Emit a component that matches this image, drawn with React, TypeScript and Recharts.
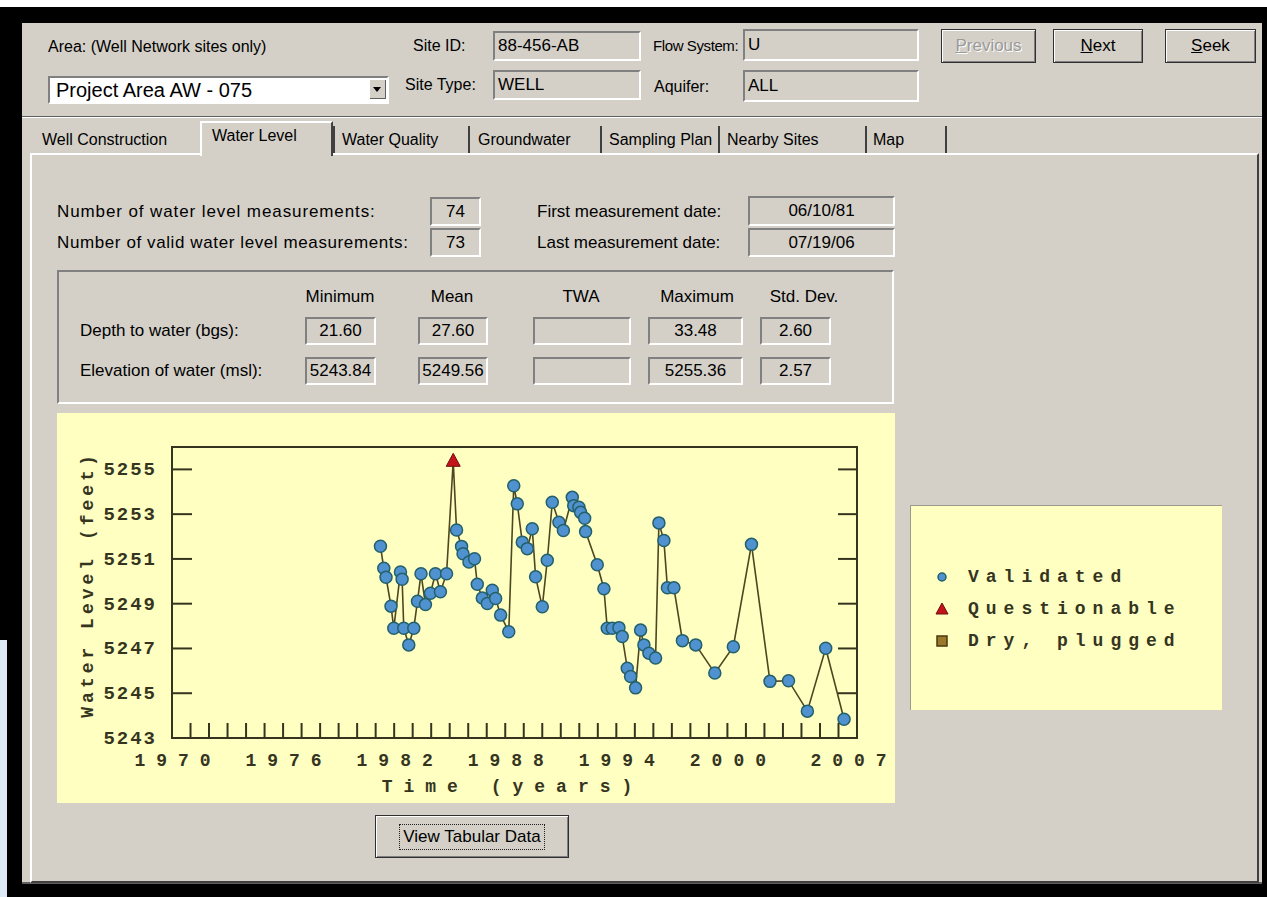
import React from 'react';
import { LineChart, Line, XAxis, YAxis, ReferenceArea, Legend } from 'recharts';

// measurement dates (decimal years) and water level elevations, in time order
const years = [
  1981.26, 1981.44, 1981.56, 1981.83, 1981.98, 1982.34, 1982.43, 1982.52, 1982.79, 1983.06,
  1983.26, 1983.45, 1983.69, 1983.96, 1984.23, 1984.5, 1984.83, 1985.19, 1985.37, 1985.64,
  1985.72, 1986.04, 1986.34, 1986.49, 1986.76, 1987.03, 1987.3, 1987.48, 1987.75, 1988.19,
  1988.46, 1988.65, 1988.92, 1989.19, 1989.46, 1989.64, 1990.0, 1990.27, 1990.54, 1990.9,
  1991.14, 1991.62, 1991.7, 1991.98, 1992.07, 1992.29, 1992.34, 1992.97, 1993.33, 1993.51,
  1993.78, 1994.14, 1994.32, 1994.59, 1994.77, 1995.04, 1995.31, 1995.49, 1995.76, 1996.12,
  1996.3, 1996.57, 1996.76, 1997.11, 1997.57, 1998.29, 1999.32, 2000.32, 2001.3, 2002.3,
  2003.3, 2004.32, 2005.31, 2006.3,
];

const levels = [
  5251.57, 5250.58, 5250.18, 5248.89, 5247.9, 5250.42, 5250.09, 5247.9, 5247.16, 5247.9,
  5249.11, 5250.34, 5248.96, 5249.47, 5250.34, 5249.53, 5250.34, 5255.36, 5252.29, 5251.56,
  5251.23, 5250.86, 5251.01, 5249.87, 5249.25, 5249.01, 5249.6, 5249.23, 5248.49, 5247.75,
  5254.27, 5253.46, 5251.75, 5251.46, 5252.35, 5250.2, 5248.86, 5250.94, 5253.53, 5252.64,
  5252.27, 5253.75, 5253.38, 5253.31, 5253.08, 5252.82, 5252.22, 5250.74, 5249.67, 5247.9,
  5247.9, 5247.93, 5247.53, 5246.12, 5245.75, 5245.24, 5247.82, 5247.16, 5246.79, 5246.57,
  5252.61, 5251.82, 5249.71, 5249.71, 5247.35, 5247.16, 5245.9, 5247.08, 5251.65, 5245.53,
  5245.56, 5244.2, 5247.01, 5243.84,
];

// V = validated, Q = questionable
const flags = [
  'V', 'V', 'V', 'V', 'V', 'V', 'V', 'V', 'V', 'V',
  'V', 'V', 'V', 'V', 'V', 'V', 'V', 'Q', 'V', 'V',
  'V', 'V', 'V', 'V', 'V', 'V', 'V', 'V', 'V', 'V',
  'V', 'V', 'V', 'V', 'V', 'V', 'V', 'V', 'V', 'V',
  'V', 'V', 'V', 'V', 'V', 'V', 'V', 'V', 'V', 'V',
  'V', 'V', 'V', 'V', 'V', 'V', 'V', 'V', 'V', 'V',
  'V', 'V', 'V', 'V', 'V', 'V', 'V', 'V', 'V', 'V',
  'V', 'V', 'V', 'V',
];

const yearTicks = [
  1970, 1971, 1972, 1973, 1974, 1975, 1976, 1977, 1978, 1979, 1980, 1981, 1982,
  1983, 1984, 1985, 1986, 1987, 1988, 1989, 1990, 1991, 1992, 1993, 1994, 1995,
  1996, 1997, 1998, 1999, 2000, 2001, 2002, 2003, 2004, 2005, 2006, 2007,
];
const labeledYears = [1970, 1976, 1982, 1988, 1994, 2000, 2007];
const levelTicks = [5243, 5245, 5247, 5249, 5251, 5253, 5255];
const legendItems = ['Validated', 'Questionable', 'Dry, plugged'];

const data = years.map((year, i) => ({ year, level: levels[i], flag: flags[i] }));

const GRAY = '#d4d0c8';
const YELLOW = '#ffffc2';
const INK = '#35351f';
const LINE_COLOR = '#4e4620';
const DOT_FILL = '#4f92cf';
const DOT_STROKE = '#24606b';
const MONO = "'Liberation Mono', 'Courier New', monospace";
const SANS = "'Liberation Sans', Arial, sans-serif";

const YearTick = (props: any) => {
  const { x, y, payload } = props;
  const show = labeledYears.includes(payload.value);
  const shift = payload.value === 2007 ? -3 : 6;
  return (
    <g>
      <line x1={x} x2={x} y1={y} y2={y - 15} stroke={INK} strokeWidth={2} />
      {show && (
        <text x={x + shift} y={y + 28} textAnchor="middle" fill={INK} fontFamily={MONO}
          fontWeight="bold" fontSize={18} letterSpacing={11}>
          {payload.value}
        </text>
      )}
    </g>
  );
};

const LevelTick = (props: any) => {
  const { x, y, payload } = props;
  return (
    <g>
      <line x1={x} x2={x + 20} y1={y} y2={y} stroke={INK} strokeWidth={2} />
      <text x={x - 15} y={y + 6} textAnchor="end" fill={INK} fontFamily={MONO}
        fontWeight="bold" fontSize={19} letterSpacing={2}>
        {payload.value}
      </text>
    </g>
  );
};

const RightTick = (props: any) => {
  const { x, y } = props;
  return <line x1={x - 19} x2={x} y1={y} y2={y} stroke={INK} strokeWidth={2} />;
};

const renderDot = (props: any) => {
  const { cx, cy, payload, index } = props;
  if (payload.flag === 'Q') {
    return (
      <path key={`dot-${index}`} d={`M${cx},${cy - 8} L${cx + 7},${cy + 5} L${cx - 7},${cy + 5} Z`}
        fill="#c4141a" stroke="#6a1010" strokeWidth={1} />
    );
  }
  return <circle key={`dot-${index}`} cx={cx} cy={cy} r={6} fill={DOT_FILL} stroke={DOT_STROKE} strokeWidth={1.5} />;
};

const legendMarker = (i: number) => {
  if (i === 0) return <circle cx={7} cy={7} r={4} fill={DOT_FILL} stroke={DOT_STROKE} strokeWidth={1.5} />;
  if (i === 1) return <path d="M7,1 L13,12 L1,12 Z" fill="#c4141a" stroke="#6a1010" strokeWidth={1} />;
  return <rect x={2} y={2} width={10} height={10} fill="#9a7a2a" stroke="#4a3a10" strokeWidth={1.5} />;
};

const renderLegend = () => (
  <div style={{ position: 'relative', width: 312, height: 205, background: YELLOW, boxSizing: 'border-box',
    borderTop: '1px solid #9a9a90', borderLeft: '1px solid #9a9a90' }}>
    {legendItems.map((name, i) => (
      <div key={name} style={{ position: 'absolute', left: 24, top: 59 + i * 32, height: 24, display: 'flex', alignItems: 'center' }}>
        <svg width={14} height={14}>{legendMarker(i)}</svg>
        <span style={{ marginLeft: 19, fontFamily: MONO, fontWeight: 'bold', fontSize: 18, letterSpacing: 7, color: INK }}>
          {name}
        </span>
      </div>
    ))}
  </div>
);

const sunken: React.CSSProperties = {
  boxSizing: 'border-box',
  borderTop: '2px solid #808080',
  borderLeft: '2px solid #808080',
  borderBottom: '2px solid #ffffff',
  borderRight: '2px solid #ffffff',
};

const Field = ({ x, y, w, h, text, align = 'left', bg = GRAY }: any) => (
  <div style={{ ...sunken, position: 'absolute', left: x, top: y, width: w, height: h, background: bg,
    fontSize: 17, lineHeight: `${h - 4}px`, textAlign: align, paddingLeft: align === 'left' ? 3 : 0,
    whiteSpace: 'nowrap', overflow: 'hidden' }}>
    {text}
  </div>
);

const Lbl = ({ x, cy, children, w, align = 'left', size = 17, style }: any) => (
  <div style={{ position: 'absolute', left: x, top: cy - 11, height: 22, lineHeight: '22px', width: w,
    textAlign: align, fontSize: size, whiteSpace: 'nowrap', ...style }}>
    {children}
  </div>
);

const Btn = ({ x, y, w, h, children, disabled, focused }: any) => (
  <div style={{ position: 'absolute', left: x, top: y, width: w, height: h, boxSizing: 'border-box', background: GRAY,
    border: '1px solid #303030', boxShadow: 'inset 1px 1px 0 #ffffff, inset -1px -1px 0 #808080',
    display: 'flex', alignItems: 'center', justifyContent: 'center', fontSize: 17,
    color: disabled ? '#9a9a9a' : '#000', textShadow: disabled ? '1px 1px 0 #ffffff' : 'none' }}>
    {focused ? (
      <div style={{ border: '1px dotted #202020', padding: '2px 3px' }}>{children}</div>
    ) : children}
  </div>
);

const tabs = [
  { name: 'Well Construction', x: 42 },
  { name: 'Water Quality', x: 342 },
  { name: 'Groundwater', x: 478 },
  { name: 'Sampling Plan', x: 609 },
  { name: 'Nearby Sites', x: 727 },
  { name: 'Map', x: 873 },
];
const tabSeparators = [333, 468, 600, 718, 865, 945];

const App = () => {
  return (
    <div style={{ position: 'absolute', left: 0, top: 0, width: 1267, height: 897, background: '#ffffff',
      fontFamily: SANS, color: '#000', overflow: 'hidden' }}>
      <div style={{ position: 'absolute', left: 0, top: 7, width: 1267, height: 890, background: '#000' }} />
      <div style={{ position: 'absolute', left: 0, top: 640, width: 7, height: 257, background: '#dfe8f7' }} />
      <div style={{ position: 'absolute', left: 22, top: 23, width: 1240, height: 861, background: GRAY,
        borderBottom: '2px solid #606060', boxSizing: 'border-box' }} />

      {/* header */}
      <Lbl x={48} cy={47} size={16}>Area: (Well Network sites only)</Lbl>
      <div style={{ ...sunken, position: 'absolute', left: 48, top: 76, width: 341, height: 28, background: '#fff' }}>
        <div style={{ position: 'absolute', left: 6, top: 0, lineHeight: '24px', fontSize: 20 }}>Project Area AW - 075</div>
        <div style={{ position: 'absolute', right: 1, top: 1, width: 17, height: 20, background: GRAY,
          boxShadow: 'inset 1px 1px 0 #ffffff, inset -1px -1px 0 #606060' }}>
          <svg width={17} height={20}><path d="M4,8 L12,8 L8,13 Z" fill="#000" /></svg>
        </div>
      </div>
      <Lbl x={413} cy={46} size={16}>Site ID:</Lbl>
      <Field x={493} y={31} w={148} h={30} text="88-456-AB" />
      <Lbl x={405} cy={85} size={16}>Site Type:</Lbl>
      <Field x={493} y={70} w={148} h={30} text="WELL" />
      <Lbl x={653} cy={46} size={15} style={{ letterSpacing: -0.4 }}>Flow System:</Lbl>
      <Field x={743} y={29} w={176} h={32} text="U" />
      <Lbl x={654} cy={87} size={16}>Aquifer:</Lbl>
      <Field x={743} y={70} w={176} h={32} text="ALL" />
      <Btn x={941} y={29} w={95} h={34} disabled><span><u>P</u>revious</span></Btn>
      <Btn x={1053} y={29} w={90} h={34}><span><u>N</u>ext</span></Btn>
      <Btn x={1165} y={29} w={91} h={34}><span><u>S</u>eek</span></Btn>
      <div style={{ position: 'absolute', left: 22, top: 116, width: 1240, height: 1, background: '#606060' }} />
      <div style={{ position: 'absolute', left: 22, top: 117, width: 1240, height: 1, background: '#ffffff' }} />

      {/* tabs */}
      <div style={{ position: 'absolute', left: 30, top: 153, width: 1229, height: 730, boxSizing: 'border-box',
        borderTop: '2px solid #ffffff', borderLeft: '2px solid #ffffff', borderRight: '2px solid #404040',
        borderBottom: '2px solid #404040' }} />
      {tabs.map((t) => (
        <Lbl key={t.name} x={t.x} cy={140} size={16}>{t.name}</Lbl>
      ))}
      {tabSeparators.map((sx) => (
        <div key={sx} style={{ position: 'absolute', left: sx, top: 126, width: 2, height: 27, background: '#404040' }} />
      ))}
      <div style={{ position: 'absolute', left: 200, top: 121, width: 133, height: 35, background: GRAY, boxSizing: 'border-box',
        borderTop: '2px solid #ffffff', borderLeft: '2px solid #ffffff', borderRight: '2px solid #404040' }} />
      <Lbl x={212} cy={136} size={16}>Water Level</Lbl>

      {/* statistics */}
      <Lbl x={57} cy={212} style={{ letterSpacing: 0.9 }}>Number of water level measurements:</Lbl>
      <Field x={430} y={197} w={51} h={29} text="74" align="center" />
      <Lbl x={57} cy={243} style={{ letterSpacing: 0.6 }}>Number of valid water level measurements:</Lbl>
      <Field x={430} y={228} w={51} h={29} text="73" align="center" />
      <Lbl x={537} cy={212}>First measurement date:</Lbl>
      <Field x={748} y={196} w={147} h={30} text="06/10/81" align="center" />
      <Lbl x={537} cy={243}>Last measurement date:</Lbl>
      <Field x={748} y={228} w={147} h={29} text="07/19/06" align="center" />

      <div style={{ position: 'absolute', left: 57, top: 270, width: 837, height: 134, boxSizing: 'border-box',
        borderTop: '2px solid #808080', borderLeft: '2px solid #808080', borderBottom: '2px solid #ffffff',
        borderRight: '2px solid #ffffff' }} />
      <Lbl x={280} w={120} cy={297} align="center">Minimum</Lbl>
      <Lbl x={392} w={120} cy={297} align="center">Mean</Lbl>
      <Lbl x={521} w={120} cy={297} align="center">TWA</Lbl>
      <Lbl x={637} w={120} cy={297} align="center">Maximum</Lbl>
      <Lbl x={744} w={120} cy={297} align="center">Std. Dev.</Lbl>
      <Lbl x={80} cy={331}>Depth to water (bgs):</Lbl>
      <Lbl x={80} cy={371}>Elevation of water (msl):</Lbl>
      <Field x={305} y={317} w={71} h={28} text="21.60" align="center" />
      <Field x={418} y={317} w={70} h={28} text="27.60" align="center" />
      <Field x={533} y={317} w={98} h={28} text="" />
      <Field x={648} y={317} w={95} h={28} text="33.48" align="center" />
      <Field x={760} y={317} w={71} h={28} text="2.60" align="center" />
      <Field x={305} y={357} w={71} h={28} text="5243.84" align="center" />
      <Field x={418} y={357} w={70} h={28} text="5249.56" align="center" />
      <Field x={533} y={357} w={98} h={28} text="" />
      <Field x={648} y={357} w={95} h={28} text="5255.36" align="center" />
      <Field x={760} y={357} w={71} h={28} text="2.57" align="center" />

      {/* chart */}
      <div style={{ position: 'absolute', left: 57, top: 413, width: 838, height: 390, background: YELLOW }} />
      <div style={{ position: 'absolute', left: 57, top: 413 }}>
        <LineChart width={1165} height={390} data={data} margin={{ top: 34, right: 360, bottom: 35, left: 55 }}>
          <XAxis dataKey="year" type="number" domain={[1970, 2007]} ticks={yearTicks} interval={0}
            allowDataOverflow axisLine={false} tickLine={false} tickSize={0} tickMargin={0} height={30}
            tick={<YearTick />}
            label={{ content: (p: any) => {
              const vb = p.viewBox || {};
              return (
                <text x={vb.x + vb.width / 2 - 2} y={vb.y + 54} textAnchor="middle" fill={INK} fontFamily={MONO}
                  fontWeight="bold" fontSize={18} letterSpacing={11}>Time (years)</text>
              );
            } }} />
          <YAxis yAxisId="left" type="number" domain={[5243, 5256]} ticks={levelTicks} interval={0}
            allowDataOverflow axisLine={false} tickLine={false} tickSize={0} tickMargin={0} width={60}
            tick={<LevelTick />}
            label={{ content: (p: any) => {
              const vb = p.viewBox || {};
              return (
                <text transform={`translate(${vb.x - 19},${vb.y + vb.height / 2 - 8}) rotate(-90)`} textAnchor="middle"
                  fill={INK} fontFamily={MONO} fontWeight="bold" fontSize={18} letterSpacing={4}>
                  Water Level (feet)
                </text>
              );
            } }} />
          <YAxis yAxisId="right" orientation="right" type="number" domain={[5243, 5256]} ticks={levelTicks}
            interval={0} allowDataOverflow axisLine={false} tickLine={false} tickSize={0} tickMargin={0} width={5}
            tick={<RightTick />} />
          <ReferenceArea yAxisId="left" x1={1970} x2={2007} y1={5243} y2={5256} fill="none" fillOpacity={0}
            stroke={INK} strokeWidth={2} ifOverflow="visible" />
          <Line yAxisId="left" type="linear" dataKey="level" stroke={LINE_COLOR} strokeWidth={1.6}
            dot={renderDot} activeDot={false} isAnimationActive={false} />
          <Legend layout="vertical" align="center" verticalAlign="middle" content={renderLegend}
            wrapperStyle={{ left: 853, top: 92, width: 312, height: 205 }} />
        </LineChart>
      </div>

      <Btn x={375} y={815} w={194} h={43} focused>View Tabular Data</Btn>
    </div>
  );
};

export default App;
